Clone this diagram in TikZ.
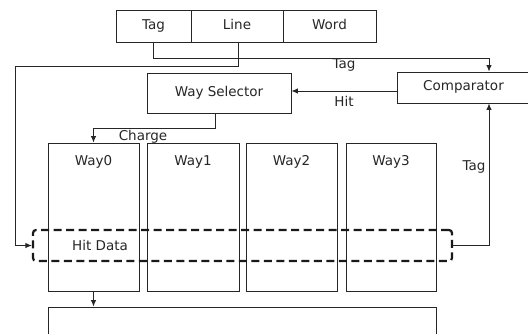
\documentclass[tikz,border=0pt]{standalone}
\usepackage{fontspec}
\setmainfont{DejaVu Sans}
\usetikzlibrary{arrows.meta,calc}
\begin{document}
\begin{tikzpicture}[x=1pt,y=-1pt,
  font=\fontsize{13.5}{15}\selectfont,
  every node/.style={text=black!85, inner sep=0pt, text height=10pt, text depth=4pt},
  blk/.style={draw=black!85, line width=0.9pt, rectangle},
  wire/.style={draw=black!85, line width=0.9pt},
  arr/.style={wire, -{Latex[length=6.5pt,width=5.5pt]}},
  hitbus/.style={draw=black!90, line width=2.2pt, dash pattern=on 8pt off 4.5pt, rounded corners=3pt}
]
\useasboundingbox (0,0) rectangle (528,333);

% address fields
\node[blk, minimum width=75pt, minimum height=32pt] (tag) at (153.5,26) {Tag};
\node[blk, minimum width=92pt, minimum height=32pt] (line) at (237,26) {Line};
\node[blk, minimum width=93pt, minimum height=32pt] (word) at (329.5,26) {Word};

% control blocks
\node[blk, minimum width=144pt, minimum height=40pt] (ws) at (219,93) {Way Selector};
\node[blk, minimum width=133pt, minimum height=31pt] (cmp) at (463.5,87.5) {Comparator};

% ways
\node[blk, minimum width=91pt, minimum height=148pt] (w0) at (93.5,217) {};
\node[blk, minimum width=92pt, minimum height=148pt] (w1) at (193,217) {};
\node[blk, minimum width=91pt, minimum height=148pt] (w2) at (291.5,217) {};
\node[blk, minimum width=90pt, minimum height=148pt] (w3) at (391,217) {};
\node (w0t) at (93.5,162) {Way0};
\node (w1t) at (193,162) {Way1};
\node (w2t) at (291.5,162) {Way2};
\node (w3t) at (391,162) {Way3};

% hit data row
\node[hitbus, minimum width=419pt, minimum height=31pt] (hit) at (242.5,245.5) {};
\node (hitt) at (100,247) {Hit Data};

% output block
\node[blk, minimum width=388pt, minimum height=38pt] (bot) at (242,326) {};

% connectors
\draw[arr] (tag.south) -- ++(0,16) -| ([xshift=25.5pt]cmp.north);
\draw[arr] ([xshift=1pt]line.south) -- ++(0,24) -| ([xshift=-16pt]hit.west) -- (hit.west);
\draw[arr] ([yshift=-3.5pt]cmp.west) -- ([yshift=-3.5pt]cmp.west -| ws.east);
\draw[arr] ([xshift=-4pt]ws.south) -- ++(0,15) -| (w0.north);
\draw[arr] (w0.south) -- (bot.north -| w0.south);
\draw[arr] (hit.east) -| ([xshift=25.5pt]cmp.south);

% labels
\node (ltag) at (344,65) {Tag};
\node (lhit) at (344,103) {Hit};
\node (lchg) at (143,137) {Charge};
\node (ltag2) at (474,167) {Tag};
\end{tikzpicture}
\end{document}
